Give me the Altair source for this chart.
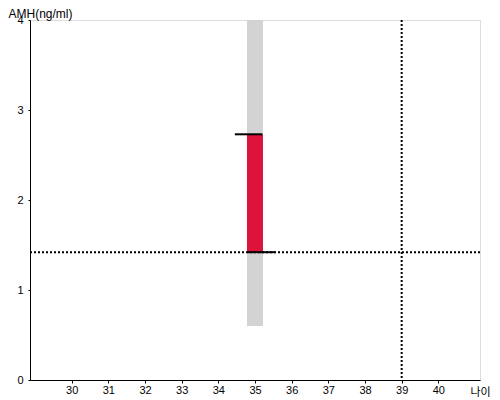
import altair as alt
import pandas as pd

# data
age_point = [35]
range_low = [0.6]
range_high = [4.0]
iqr_low = [1.42]
iqr_high = [2.73]
top_tick_x = [34.45, 35.2]
bottom_tick_x = [34.8, 35.56]
ref_age = [39]
ref_amh = [1.42]
x_domain = [29, 41]
y_domain = [0, 4]
x_ticks = [30, 31, 32, 33, 34, 35, 36, 37, 38, 39, 40]
y_ticks = [0, 1, 2, 3, 4]

xs = alt.Scale(domain=x_domain, nice=False, zero=False)
ys = alt.Scale(domain=y_domain, nice=False)

font = "Liberation Sans"

bars = pd.DataFrame({"age": age_point, "lo": range_low, "hi": range_high,
                     "q1": iqr_low, "q3": iqr_high})

xaxis = alt.Axis(title="나이", values=x_ticks, format="d", grid=False, ticks=True, tickSize=3,
                 tickColor="black", domainColor="black", labelColor="black", labelFont=font,
                 labelFontSize=11, labelPadding=1, labelFlush=False,
                 titleFont="Noto Sans CJK KR", titleFontSize=11, titleFontWeight="normal",
                 titleAlign="left", titleBaseline="middle", titleX=440, titleY=12,
                 titleColor="black")
yaxis = alt.Axis(title="AMH(ng/ml)", values=y_ticks, format="d", grid=False, ticks=True,
                 tickSize=2, tickColor="black", domainColor="black", labelColor="black",
                 labelFont=font, labelFontSize=11, labelPadding=5, labelFlush=False,
                 titleFont=font, titleFontSize=12, titleFontWeight="normal",
                 titleAngle=0, titleAlign="left", titleBaseline="middle", titleX=-22,
                 titleY=-7, titleColor="black")

gray = alt.Chart(bars).mark_bar(color="#D3D3D3", size=16).encode(
    x=alt.X("age:Q", scale=xs, axis=xaxis),
    y=alt.Y("lo:Q", scale=ys, axis=yaxis),
    y2="hi:Q",
)
red = alt.Chart(bars).mark_bar(color="#DC143C", size=16).encode(
    x=alt.X("age:Q", scale=xs),
    y=alt.Y("q1:Q", scale=ys),
    y2="q3:Q",
)

hline = alt.Chart(pd.DataFrame({"v": ref_amh})).mark_rule(
    color="black", strokeWidth=2, strokeDash=[2, 2]).encode(y=alt.Y("v:Q", scale=ys))
vline = alt.Chart(pd.DataFrame({"v": ref_age})).mark_rule(
    color="black", strokeWidth=2, strokeDash=[2, 2]).encode(x=alt.X("v:Q", scale=xs))

ticks = pd.DataFrame({
    "x1": [top_tick_x[0], bottom_tick_x[0]],
    "x2": [top_tick_x[1], bottom_tick_x[1]],
    "y": [iqr_high[0], iqr_low[0]],
})
tick_rules = alt.Chart(ticks).mark_rule(color="black", strokeWidth=2).encode(
    x=alt.X("x1:Q", scale=xs), x2="x2:Q", y=alt.Y("y:Q", scale=ys))

chart = alt.layer(gray, red, hline, vline, tick_rules).properties(
    width=450, height=360,
    autosize=alt.AutoSizeParams(type="none"),
    padding={"left": 22, "top": 12, "right": 12, "bottom": 20},
).configure_view(stroke=None).configure(background="white")

chart.save("out.html", embed_options={"renderer": "svg", "actions": False})
